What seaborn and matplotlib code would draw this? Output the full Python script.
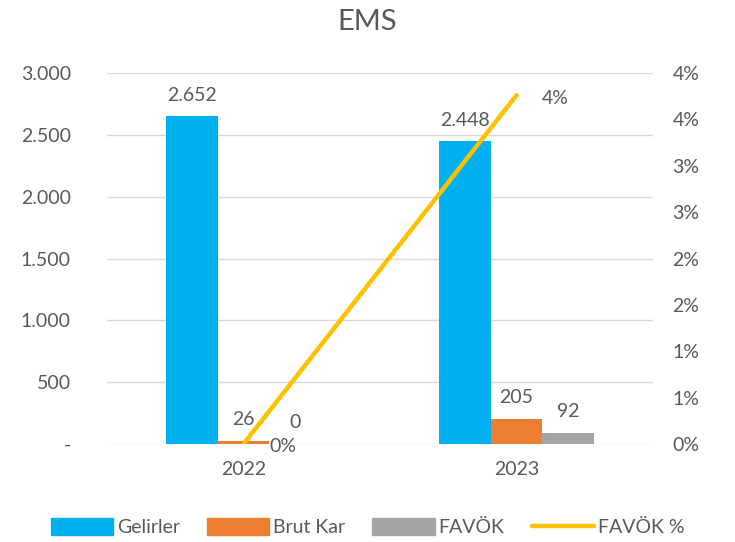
import matplotlib
matplotlib.use('Agg')
import matplotlib.pyplot as plt
from matplotlib.lines import Line2D
from matplotlib.patches import Patch
import seaborn as sns
import pandas as pd

years = ["2022", "2023"]
series = ["Gelirler", "Brut Kar", "FAVÖK"]
gelirler = [2652, 2448]
brut_kar = [26, 205]
favok = [0, 92]
favok_pct = [0.0, 3.76]
colors = ["#00B0F0", "#ED7D31", "#A5A5A5"]
line_color = "#FFC000"
text_color = "#595959"

sns.set_theme(style="white")
plt.rcParams['font.family'] = ['Lato', 'DejaVu Sans']

df = pd.DataFrame({
    "year": years * 3,
    "series": [s for s in series for _ in years],
    "value": gelirler + brut_kar + favok,
})

fig = plt.figure(figsize=(7.35, 5.42), dpi=100)
ax = fig.add_axes([107 / 735, 1 - 444 / 542, 546 / 735, 371 / 542])

sns.barplot(data=df, x="year", y="value", hue="series", hue_order=series,
            palette=colors, width=0.571, gap=0, ax=ax, legend=False,
            saturation=1, errorbar=None, linewidth=0)

ax.set_ylim(0, 3000)
ax.set_xlim(-0.5, 1.5)
yticks = list(range(0, 3001, 500))
ax.set_yticks(yticks)
ax.set_yticklabels(["-" if v == 0 else f"{v:,}".replace(",", ".") for v in yticks])
ax.yaxis.grid(True, color="#D9D9D9", linewidth=1)
ax.set_axisbelow(True)
for s in ax.spines.values():
    s.set_visible(False)
ax.set_xlabel("")
ax.set_ylabel("")
ax.tick_params(axis="both", length=0, labelsize=14, colors=text_color)
ax.tick_params(axis="y", pad=26)
ax.tick_params(axis="x", pad=12)

for container in ax.containers:
    labels = [f"{v:,.0f}".replace(",", ".") for v in container.datavalues]
    ax.bar_label(container, labels=labels, padding=9, fontsize=14, color=text_color)

ax2 = ax.twinx()
sns.lineplot(x=[0, 1], y=favok_pct, color=line_color, linewidth=3.2, ax=ax2,
             solid_capstyle="round")
ax2.set_ylim(0, 4)
pct_ticks = [i * 0.5 for i in range(9)]
ax2.set_yticks(pct_ticks)
ax2.set_yticklabels([f"{int(p + 0.5)}%" for p in pct_ticks])
ax2.tick_params(axis="y", length=0, labelsize=14, colors=text_color, pad=14)
for s in ax2.spines.values():
    s.set_visible(False)
ax2.set_xlim(-0.5, 1.5)

for x, p in zip([0, 1], favok_pct):
    ax2.annotate(f"{int(p + 0.5)}%", (x, p), xytext=(28, -2), textcoords="offset points",
                 ha="center", va="center", fontsize=14, color=text_color)

fig.text(0.5, 1 - 22 / 542, "EMS", ha="center", va="center", fontsize=21, color=text_color)

handles = [Patch(color=c, label=s) for c, s in zip(colors, series)]
handles.append(Line2D([0], [0], color=line_color, linewidth=3.2, label="FAVÖK %"))
fig.legend(handles=handles, loc="center", bbox_to_anchor=(0.5, 1 - 527 / 542), ncol=4,
           frameon=False, fontsize=14, labelcolor=text_color, handlelength=3.2,
           handleheight=1.0, columnspacing=1.4, handletextpad=0.2)

fig.savefig("out.png", dpi=100)
